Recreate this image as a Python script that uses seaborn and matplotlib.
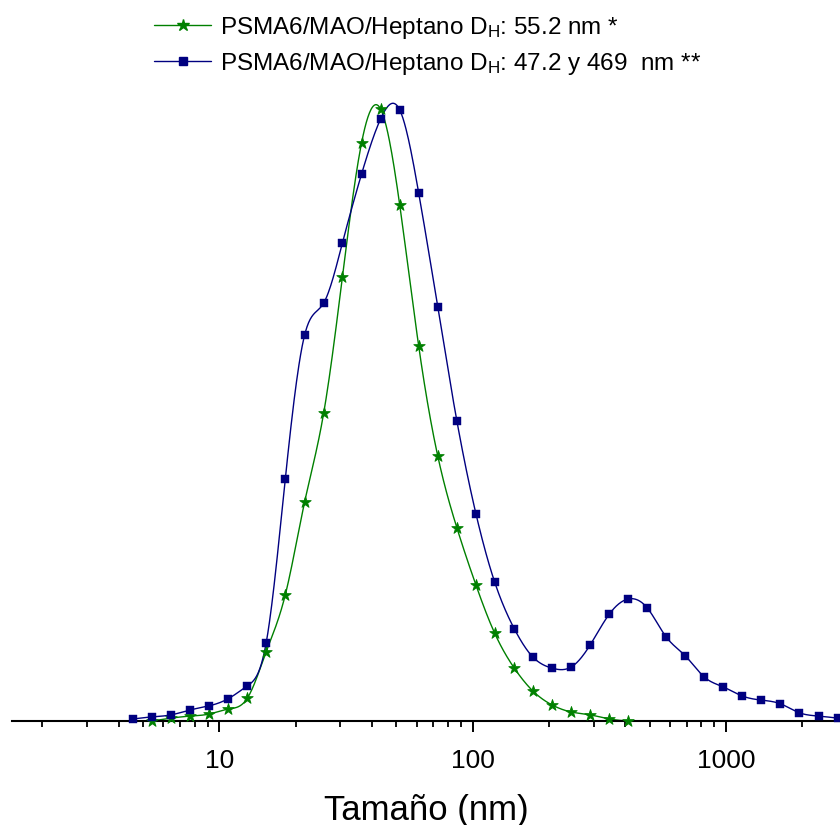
import numpy as np
import pandas as pd
import matplotlib
matplotlib.use("Agg")
import matplotlib.pyplot as plt
from matplotlib.lines import Line2D
import seaborn as sns

# ---------------- data ----------------
size_nm = [4.56, 5.42, 6.45, 7.66, 9.11, 10.8, 12.9, 15.3, 18.2, 21.7,
           25.8, 30.6, 36.4, 43.3, 51.5, 61.2, 72.8, 86.6, 103, 122,
           146, 173, 206, 245, 291, 346, 411, 489, 581, 691,
           822, 977, 1160, 1380, 1640, 1950, 2320, 2760]

# series 1 (green stars): starts at the 2nd size bin, ends at ~411 nm
green_size = size_nm[1:27]
green_int = [0.00, 0.07, 0.12, 0.17, 0.29, 0.56, 1.69, 3.08, 5.35, 7.52,
             10.85, 14.12, 14.95, 12.61, 9.16, 6.47, 4.72, 3.32, 2.15, 1.29,
             0.73, 0.39, 0.22, 0.15, 0.05, 0.00]

# series 2 (navy squares)
blue_size = size_nm
blue_int = [0.05, 0.10, 0.15, 0.27, 0.37, 0.54, 0.86, 1.91, 5.91, 9.43,
            10.21, 11.68, 13.36, 14.71, 14.93, 12.90, 10.11, 7.33, 5.06, 3.40,
            2.25, 1.56, 1.29, 1.32, 1.86, 2.61, 2.98, 2.76, 2.05, 1.59,
            1.07, 0.83, 0.61, 0.51, 0.42, 0.20, 0.12, 0.07]

labels = [r"PSMA6/MAO/Heptano D$_\mathrm{H}$: 55.2 nm *",
          r"PSMA6/MAO/Heptano D$_\mathrm{H}$: 47.2 y 469  nm **"]
xticks = [10, 100, 1000]
xticklabels = ["10", "100", "1000"]
xlabel = "Tamaño (nm)"

GREEN = "#008000"
NAVY = "#000080"

# ---------------- style ----------------
sns.set_style("white")
plt.rcParams["font.family"] = ["Liberation Sans", "DejaVu Sans"]
plt.rcParams["mathtext.fontset"] = "custom"
plt.rcParams["mathtext.rm"] = "Liberation Sans"
plt.rcParams["mathtext.it"] = "Liberation Sans:italic"
plt.rcParams["text.color"] = "black"
plt.rcParams["axes.labelcolor"] = "black"
plt.rcParams["xtick.color"] = "black"
plt.rcParams["xtick.labelcolor"] = "black"


def smooth(xv, yv, n=24):
    """natural cubic spline through the points in log10(x) space (for the line only)"""
    lx = np.log10(np.asarray(xv, float))
    y = np.asarray(yv, float)
    N = len(lx)
    h = np.diff(lx)
    A = np.zeros((N, N))
    b = np.zeros(N)
    A[0, 0] = 1.0
    A[-1, -1] = 1.0
    for i in range(1, N - 1):
        A[i, i - 1] = h[i - 1]
        A[i, i] = 2 * (h[i - 1] + h[i])
        A[i, i + 1] = h[i]
        b[i] = 3 * ((y[i + 1] - y[i]) / h[i] - (y[i] - y[i - 1]) / h[i - 1])
    c = np.linalg.solve(A, b)
    xs, ys = [], []
    for i in range(N - 1):
        bi = (y[i + 1] - y[i]) / h[i] - h[i] * (2 * c[i] + c[i + 1]) / 3
        di = (c[i + 1] - c[i]) / (3 * h[i])
        t = np.linspace(0, h[i], n, endpoint=False)
        xs.append(lx[i] + t)
        ys.append(y[i] + bi * t + c[i] * t ** 2 + di * t ** 3)
    xs.append([lx[-1]])
    ys.append([y[-1]])
    return 10 ** np.concatenate(xs), np.concatenate(ys)


W, H = 840, 825
fig = plt.figure(figsize=(W / 100, H / 100), dpi=100)
ax_left, ax_right = 12, 840
ax_bottom, ax_top = 721, 95
ax = fig.add_axes([ax_left / W, (H - ax_bottom) / H,
                   (ax_right - ax_left) / W, (ax_bottom - ax_top) / H])

ypp = 15.0 / 614.0  # data units per pixel

for sx, sy, col in [(green_size, green_int, GREEN), (blue_size, blue_int, NAVY)]:
    xs, ys = smooth(sx, sy)
    sns.lineplot(x=xs, y=ys, color=col, lw=1.0, estimator=None, sort=False, ax=ax)

sns.scatterplot(x=green_size, y=green_int, marker="*", s=75, color=GREEN,
                edgecolor=GREEN, linewidth=0.6, clip_on=False, zorder=4, ax=ax)
sns.scatterplot(x=blue_size, y=blue_int, marker="s", s=38, color=NAVY,
                edgecolor=NAVY, linewidth=0.3, clip_on=False, zorder=5, ax=ax)

ax.set_xscale("log")
ax.set_xlim(1.518, 2818)
ax.set_ylim(0, (ax_bottom - ax_top) * ypp)

for s in ["top", "right", "left"]:
    ax.spines[s].set_visible(False)
ax.spines["bottom"].set_linewidth(1.5)
ax.spines["bottom"].set_color("black")
ax.set_yticks([])
ax.set_xticks(xticks)
ax.set_xticklabels(xticklabels)
ax.xaxis.set_minor_locator(matplotlib.ticker.LogLocator(base=10, subs=np.arange(2, 10)))
ax.xaxis.set_minor_formatter(matplotlib.ticker.NullFormatter())
ax.tick_params(axis="x", which="major", direction="out", length=8, width=1.4,
               color="black", labelcolor="black", labelsize=19, pad=12, bottom=True)
ax.tick_params(axis="x", which="minor", direction="out", length=4.5, width=1.3,
               color="black", bottom=True)
ax.set_xlabel(xlabel, fontsize=25, labelpad=15, color="black")
ax.set_ylabel("")

handles = [Line2D([], [], color=GREEN, lw=1.0, marker="*", markersize=9,
                  markerfacecolor=GREEN, markeredgecolor=GREEN),
           Line2D([], [], color=NAVY, lw=1.0, marker="s", markersize=6,
                  markerfacecolor=NAVY, markeredgecolor=NAVY)]
fig.legend(handles, labels, loc="upper left", bbox_to_anchor=(154 / W, (H - 15) / H),
           frameon=False, fontsize=17.5, borderpad=0, borderaxespad=0,
           handlelength=2.35, handletextpad=0.35, labelspacing=0.4,
           labelcolor="black")

fig.savefig("out.png", dpi=100)
